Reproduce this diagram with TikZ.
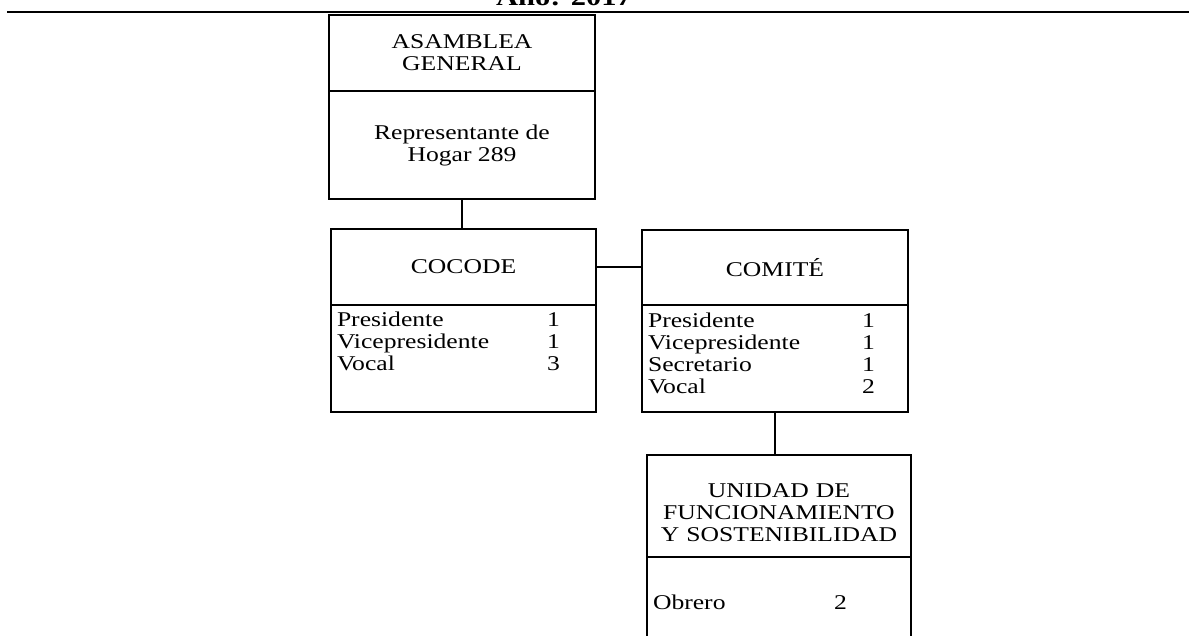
\documentclass[tikz,border=0pt]{standalone}
\usepackage{fontspec}
\setmainfont{Liberation Serif}[FakeStretch=1.22]
\usetikzlibrary{positioning}
\newcommand\fila[3]{\makebox[#1pt][l]{#2}#3}

\begin{document}
\begin{tikzpicture}[x=1pt,y=-1pt,
    every node/.style={font=\fontsize{21}{22}\selectfont},
    caja/.style={draw,line width=2pt,outer sep=0pt,inner sep=0pt,align=center},
    lista/.style={caja,align=left,inner xsep=6pt,text width=#1},
    enlace/.style={line width=2pt}]
  \useasboundingbox (0,0) rectangle (1189,635);
  \node[anchor=base,font=\fontsize{25}{26}\selectfont\bfseries] (anio) at (564,5) {Año: 2017};
  \draw[line width=2.5pt] (7,12) -- (1189,12);
  \node[caja,minimum width=266pt,minimum height=76pt,anchor=north west] (asamT) at (329,15) {ASAMBLEA\\GENERAL};
  \node[caja,minimum width=266pt,minimum height=108pt,below=0pt of asamT] (asamB) {Representante de\\Hogar 289};
  \node[caja,minimum width=265pt,minimum height=76pt,anchor=north west] (cocT) at (331,229) {COCODE};
  \node[lista=253pt,text height=21pt,text depth=86pt,below=0pt of cocT] (cocB)
    {\fila{210}{Presidente}{1}\\\fila{210}{Vicepresidente}{1}\\\fila{210}{Vocal}{3}};
  \node[caja,minimum width=266pt,minimum height=75pt,anchor=north west] (comT) at (642,230) {COMITÉ};
  \node[lista=254pt,text height=22pt,text depth=85pt,below=0pt of comT] (comB)
    {\fila{214}{Presidente}{1}\\\fila{214}{Vicepresidente}{1}\\\fila{214}{Secretario}{1}\\\fila{214}{Vocal}{2}};
  \node[caja,text width=264pt,text height=42pt,text depth=60pt,anchor=north west] (uniT) at (647,455)
    {UNIDAD DE\\FUNCIONAMIENTO\\Y SOSTENIBILIDAD};
  \node[lista=252pt,text height=52pt,text depth=70pt,below=0pt of uniT] (uniB) {\fila{181}{Obrero}{2}};
  \draw[enlace] (asamB.south) -- (asamB.south |- cocT.north);
  \draw[enlace] (cocT.east) -- (cocT.east -| comT.west);
  \draw[enlace] (comB.south) -- (comB.south |- uniT.north);
\end{tikzpicture}
\end{document}
